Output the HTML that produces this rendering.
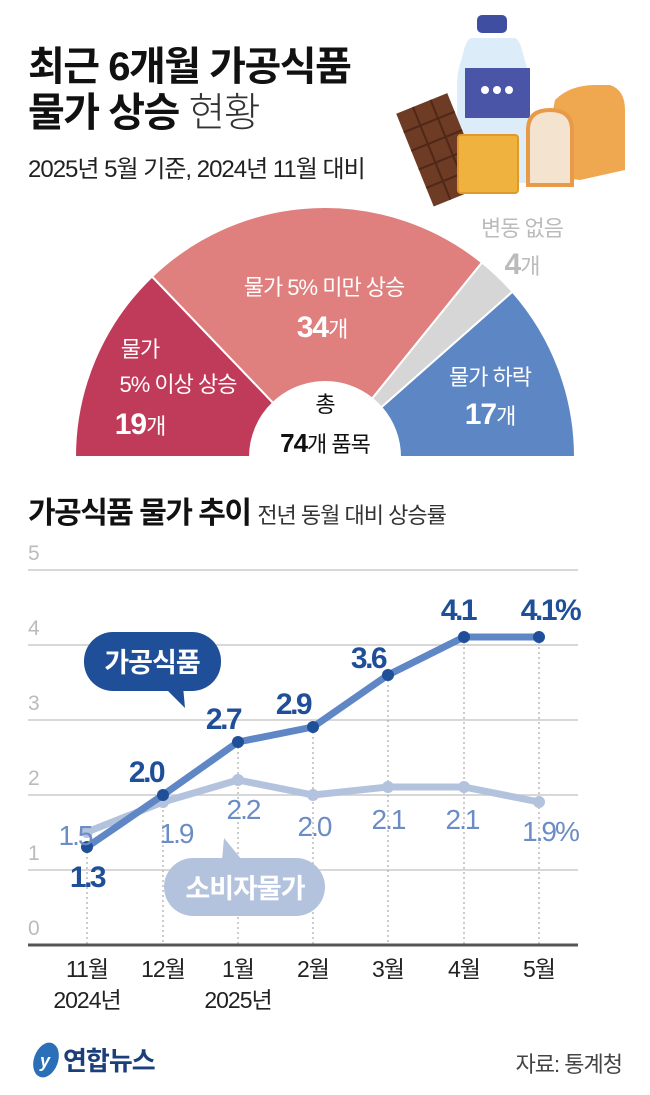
<!DOCTYPE html>
<html><head><meta charset="utf-8">
<style>
body{margin:0;width:650px;height:1090px;background:#fff;overflow:hidden;font-family:"Liberation Sans","Noto Sans CJK KR",sans-serif;}
</style></head><body>
<svg width="650" height="1090" viewBox="0 0 650 1090" xmlns="http://www.w3.org/2000/svg" font-family="'Liberation Sans','Noto Sans CJK KR',sans-serif">
<!-- title -->
<text x="28" y="80" font-size="40" font-weight="bold" fill="#111" letter-spacing="-1.5">최근 6개월 가공식품</text>
<text x="28" y="126" font-size="40" font-weight="bold" fill="#111" letter-spacing="-1.5">물가 상승 <tspan font-weight="300" fill="#333">현황</tspan></text>
<text x="28" y="177" font-size="24" fill="#222" letter-spacing="-1">2025년 5월 기준, 2024년 11월 대비</text>
<!-- illustration -->
<g>
<rect x="477" y="15" width="30" height="18" rx="5" fill="#3f4ea0"/>
<path d="M472 38 h42 q6 0 10 20 q5 12 5 30 v95 h-72 v-95 q0-18 5-30 q4-20 10-20z" fill="#dcecf8"/>
<rect x="465" y="68" width="65" height="50" fill="#4a55a8"/>
<circle cx="485" cy="90" r="4" fill="#fff"/><circle cx="497" cy="90" r="4" fill="#fff"/><circle cx="509" cy="90" r="4" fill="#fff"/>
<g transform="rotate(-22 440 150)"><rect x="413" y="100" width="55" height="100" fill="#6e3b24"/>
<g stroke="#4f2817" stroke-width="2"><line x1="431" y1="100" x2="431" y2="200"/><line x1="450" y1="100" x2="450" y2="200"/><line x1="413" y1="120" x2="468" y2="120"/><line x1="413" y1="140" x2="468" y2="140"/><line x1="413" y1="160" x2="468" y2="160"/><line x1="413" y1="180" x2="468" y2="180"/></g></g>
<path d="M555 100 q15-15 40-15 l15 0 q15 5 15 25 v60 l-45 10 l-40 -5z" fill="#f0a850"/>
<path d="M528 130 q0-20 22-20 q22 0 22 20 v55 h-44z" fill="#f4e3cf" stroke="#e89a48" stroke-width="4"/>
<rect x="458" y="135" width="60" height="58" rx="3" fill="#f0b23e" stroke="#e09a2a" stroke-width="2"/>
</g>
<!-- semicircle -->
<g stroke="#fff" stroke-width="2">
<path d="M75 457 A250 250 0 0 1 152 276.5 L273.1 402.9 A75 75 0 0 0 250 457 Z" fill="#c03a59"/>
<path d="M152 276.5 A250 250 0 0 1 482 262.5 L372.1 398.6 A75 75 0 0 0 273.1 402.9 Z" fill="#df7f7e"/>
<path d="M482 262.5 A250 250 0 0 1 512.5 291.7 L381.3 407.4 A75 75 0 0 0 372.1 398.6 Z" fill="#d6d6d6"/>
<path d="M512.5 291.7 A250 250 0 0 1 575 457 L400 457 A75 75 0 0 0 381.3 407.4 Z" fill="#5d86c5"/>
</g>
<g font-size="22" fill="#fff" text-anchor="middle" letter-spacing="-1">
<text x="140" y="357">물가</text>
<text x="178" y="392">5% 이상 상승</text>
<text x="140" y="434" font-size="30" font-weight="bold">19<tspan font-size="22" font-weight="normal">개</tspan></text>
<text x="324" y="295">물가 5% 미만 상승</text>
<text x="322" y="337" font-size="30" font-weight="bold">34<tspan font-size="22" font-weight="normal">개</tspan></text>
<text x="490" y="385">물가 하락</text>
<text x="490" y="424" font-size="30" font-weight="bold">17<tspan font-size="22" font-weight="normal">개</tspan></text>
<text x="522" y="236" fill="#bbb">변동 없음</text>
<text x="522" y="274" fill="#bbb" font-size="30" font-weight="bold">4<tspan font-size="22" font-weight="normal">개</tspan></text>
<text x="325" y="412" fill="#111">총</text>
<text x="325" y="452" fill="#111" font-size="26" font-weight="bold">74<tspan font-size="22" font-weight="normal">개 품목</tspan></text>
</g>
<!-- chart title -->
<text x="28" y="523" font-size="30" font-weight="bold" fill="#111" letter-spacing="-1.5">가공식품 물가 추이 <tspan font-size="22" font-weight="normal" fill="#333" letter-spacing="-1">전년 동월 대비 상승률</tspan></text>
<!-- grid -->
<g stroke="#ccc" stroke-width="1.5">
<line x1="28" y1="570" x2="578" y2="570"/><line x1="28" y1="645" x2="578" y2="645"/><line x1="28" y1="720" x2="578" y2="720"/><line x1="28" y1="795" x2="578" y2="795"/><line x1="28" y1="870" x2="578" y2="870"/>
</g>
<g font-size="21" fill="#bbb" font-weight="300">
<text x="28" y="560">5</text><text x="28" y="635">4</text><text x="28" y="710">3</text><text x="28" y="785">2</text><text x="28" y="860">1</text><text x="28" y="935">0</text>
</g>
<g stroke="#999" stroke-width="1" stroke-dasharray="2,3">
<line x1="87" y1="847" x2="87" y2="945"/><line x1="163" y1="795" x2="163" y2="945"/><line x1="238" y1="742" x2="238" y2="945"/><line x1="313" y1="727" x2="313" y2="945"/><line x1="388" y1="675" x2="388" y2="945"/><line x1="464" y1="637" x2="464" y2="945"/><line x1="539" y1="637" x2="539" y2="945"/>
</g>
<line x1="28" y1="945" x2="578" y2="945" stroke="#555" stroke-width="3"/>
<!-- CPI -->
<polyline points="87,832 163,802 238,780 313,795 388,787 464,787 539,802" fill="none" stroke="#b3c3de" stroke-width="7" stroke-linejoin="round"/>
<g fill="#b3c3de"><circle cx="87" cy="832" r="6"/><circle cx="163" cy="802" r="6"/><circle cx="238" cy="780" r="6"/><circle cx="313" cy="795" r="6"/><circle cx="388" cy="787" r="6"/><circle cx="464" cy="787" r="6"/><circle cx="539" cy="802" r="6"/></g>
<!-- processed -->
<polyline points="87,847 163,795 238,742 313,727 388,675 464,637 539,637" fill="none" stroke="#5f86c5" stroke-width="7" stroke-linejoin="round"/>
<g fill="#1f4f98"><circle cx="87" cy="847" r="6"/><circle cx="163" cy="795" r="6"/><circle cx="238" cy="742" r="6"/><circle cx="313" cy="727" r="6"/><circle cx="388" cy="675" r="6"/><circle cx="464" cy="637" r="6"/><circle cx="539" cy="637" r="6"/></g>
<g font-size="28" fill="#6b8cc4" font-weight="300" text-anchor="middle" letter-spacing="-2">
<text x="75" y="845">1.5</text><text x="176" y="843">1.9</text><text x="243" y="819">2.2</text><text x="314" y="836">2.0</text><text x="388" y="829">2.1</text><text x="462" y="829">2.1</text><text x="550" y="841">1.9%</text>
</g>
<g font-size="30" fill="#1f4f98" font-weight="bold" text-anchor="middle" letter-spacing="-2.5">
<text x="87" y="887">1.3</text><text x="146" y="782">2.0</text><text x="223" y="729">2.7</text><text x="293" y="714">2.9</text><text x="368" y="668">3.6</text><text x="458" y="620">4.1</text><text x="550" y="620">4.1%</text>
</g>
<!-- bubbles -->
<rect x="84" y="632" width="137" height="59" rx="29" fill="#1f4f98"/>
<path d="M165 688 l20 20 l-2 -22z" fill="#1f4f98"/>
<text x="152" y="672" font-size="27" font-weight="bold" fill="#fff" text-anchor="middle" letter-spacing="-1">가공식품</text>
<rect x="164" y="858" width="161" height="58" rx="29" fill="#b3c3de"/>
<path d="M222 860 l2 -22 l18 22z" fill="#b3c3de"/>
<text x="245" y="898" font-size="27" font-weight="bold" fill="#fff" text-anchor="middle" letter-spacing="-1">소비자물가</text>
<!-- x labels -->
<g font-size="23" fill="#222" text-anchor="middle" letter-spacing="-1">
<text x="87" y="977">11월</text><text x="163" y="977">12월</text><text x="238" y="977">1월</text><text x="313" y="977">2월</text><text x="388" y="977">3월</text><text x="464" y="977">4월</text><text x="539" y="977">5월</text>
<text x="87" y="1008">2024년</text><text x="238" y="1008">2025년</text>
</g>
<!-- footer -->
<ellipse cx="46" cy="1060" rx="12" ry="18" fill="#2a6fb8" transform="rotate(20 46 1060)"/>
<text x="40" y="1067" font-size="18" font-weight="bold" fill="#fff" font-style="italic">y</text>
<text x="63" y="1070" font-size="26" font-weight="bold" fill="#1b3f7a" letter-spacing="-1">연합뉴스</text>
<text x="622" y="1072" font-size="22" fill="#444" text-anchor="end" letter-spacing="-1">자료: 통계청</text>
</svg>
</body></html>
